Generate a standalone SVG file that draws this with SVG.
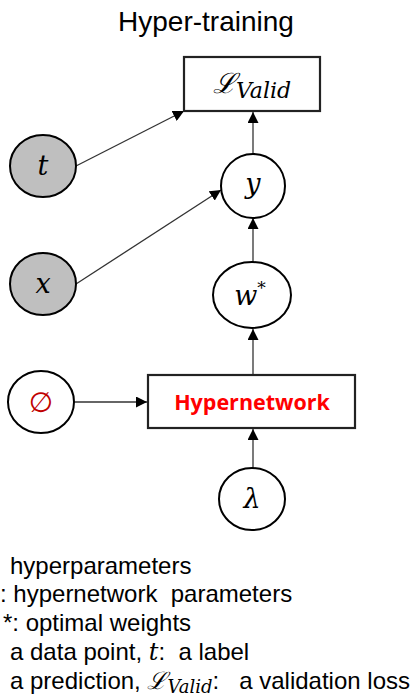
<svg xmlns="http://www.w3.org/2000/svg" width="416" height="699" viewBox="0 0 416 699">
<style>
.node{fill:#fff;stroke:#000;stroke-width:2}
.obs{fill:#bfbfbf;stroke:#000;stroke-width:2}
.box{fill:#fff;stroke:#222;stroke-width:2.2}
.edge{stroke:#333;stroke-width:1.3;fill:none}
.math{font-family:"DejaVu Serif","Liberation Serif",serif;font-style:italic;font-size:27px;fill:#000}
.sans{font-family:"Liberation Sans",Arial,sans-serif;fill:#000}
.leg{font-family:"Liberation Sans",Arial,sans-serif;font-size:24px;fill:#000}
.legm{font-family:"DejaVu Serif","Liberation Serif",serif;font-style:italic;fill:#000}
</style>
<defs>
<marker id="ah" viewBox="0 0 10 10" refX="10" refY="5" markerWidth="11" markerHeight="11" markerUnits="userSpaceOnUse" orient="auto">
<path d="M0,0 L10,5 L0,10 Z" fill="#000"/>
</marker>
</defs>
<rect width="416" height="699" fill="#fff"/>
<text class="sans" x="206" y="31" font-size="28" text-anchor="middle">Hyper-training</text>

<g id="connectors">
<line class="edge" x1="76" y1="166" x2="184" y2="111" marker-end="url(#ah)"/>
<line class="edge" x1="76" y1="284" x2="221" y2="190" marker-end="url(#ah)"/>
<line class="edge" x1="253" y1="154" x2="253" y2="112" marker-end="url(#ah)"/>
<line class="edge" x1="253" y1="262" x2="253" y2="218" marker-end="url(#ah)"/>
<line class="edge" x1="253" y1="375" x2="253" y2="329" marker-end="url(#ah)"/>
<line class="edge" x1="253" y1="468" x2="253" y2="429" marker-end="url(#ah)"/>
<line class="edge" x1="74" y1="402" x2="147" y2="402" marker-end="url(#ah)"/>
</g>

<g id="loss">
<rect class="box" x="184" y="57" width="136" height="54"/>
<text x="252" y="93" text-anchor="middle"><tspan class="legm" font-size="28" font-style="normal">ℒ</tspan><tspan class="legm" font-size="22" dy="5">Valid</tspan></text>
</g>
<g id="t">
<ellipse class="obs" cx="43" cy="166" rx="33" ry="31"/>
<text class="math" x="43" y="175" text-anchor="middle">t</text>
</g>
<g id="y">
<ellipse class="node" cx="253" cy="186" rx="32" ry="32"/>
<text class="math" x="253" y="193" text-anchor="middle">y</text>
</g>
<g id="x">
<ellipse class="obs" cx="43" cy="284" rx="33" ry="31"/>
<text class="math" x="43" y="293" text-anchor="middle">x</text>
</g>
<g id="wstar">
<ellipse class="node" cx="252" cy="295" rx="39" ry="33"/>
<text class="math" x="250" y="305" text-anchor="middle">w<tspan font-size="17" font-style="normal" dy="-11">*</tspan></text>
</g>
<g id="phi">
<ellipse class="node" cx="41" cy="402" rx="33" ry="31"/>
<text x="41" y="412" text-anchor="middle" font-family="DejaVu Sans,sans-serif" font-size="28" fill="#c00000">∅</text>
</g>
<g id="hypernetwork">
<rect class="box" x="148" y="375" width="207" height="53"/>
<text x="252" y="410" text-anchor="middle" font-family="Open Sans,Liberation Sans,sans-serif" font-weight="bold" font-size="21.5" fill="#ff0000">Hypernetwork</text>
</g>
<g id="lambda">
<ellipse class="node" cx="252" cy="499" rx="33" ry="31"/>
<text class="math" x="252" y="508" text-anchor="middle">λ</text>
</g>

<g id="legend">
<text class="leg" x="10" y="574">hyperparameters</text>
<text class="leg" x="0" y="602">: hypernetwork&#160; parameters</text>
<text class="leg" x="3" y="631">*: optimal weights</text>
<text class="leg" x="10" y="660">a data point, <tspan class="legm">t</tspan>:&#160; a label</text>
<text class="leg" x="10" y="689">a prediction, <tspan class="legm" font-style="normal">ℒ</tspan><tspan class="legm" font-size="18" dy="4">Valid</tspan><tspan dy="-4">:&#160;&#160; a validation loss</tspan></text>
</g>
</svg>
